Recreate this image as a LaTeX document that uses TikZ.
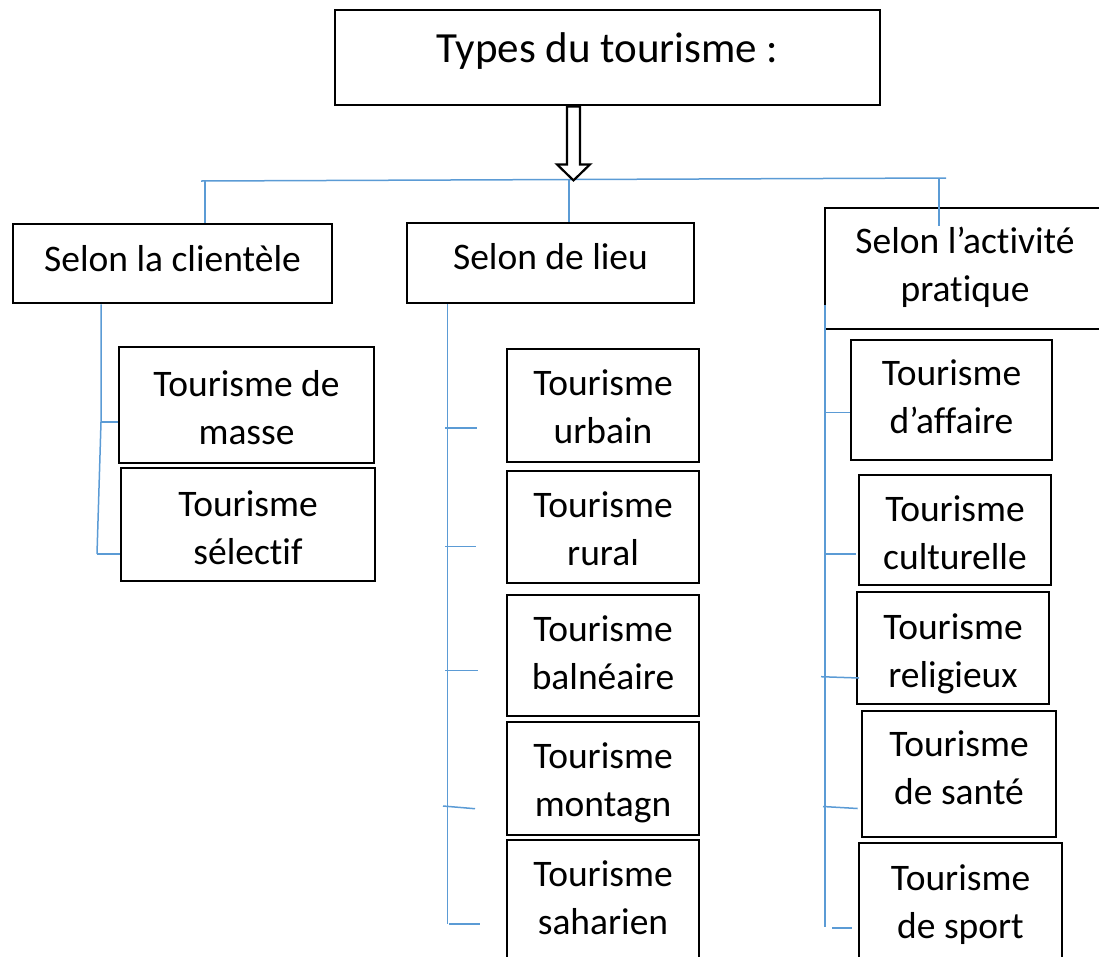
\documentclass[tikz,border=0pt]{standalone}
\usepackage{fontspec}
\setmainfont{Carlito}[Ligatures=NoCommon]
\usepackage{xcolor}
\definecolor{lineblue}{HTML}{5B9BD5}

\tikzset{
  box/.style={draw, line width=2.8pt, align=center, inner sep=0pt,
    font=\fontsize{37.5}{48}\selectfont, text height=80pt},
  tree/.style={draw=lineblue, line width=1.5pt}
}

\begin{document}
\begin{tikzpicture}[x=1pt, y=-1pt]
      \useasboundingbox (0,0) rectangle (1099,956);

      % title
      \node[box, font=\fontsize{43}{52}\selectfont, minimum width=545pt, minimum height=95pt,
        text height=30pt, text depth=21pt] (types) at (607.5,57.5) {Types du tourisme :};

      % first level
      \node[box, minimum width=319pt, minimum height=79pt, text height=30pt, text depth=15pt]
        (clientele) at (172.5,263.5) {Selon la clientèle};
      \node[box, minimum width=287pt, minimum height=80pt, text height=30pt, text depth=17.4pt]
        (lieu) at (550.5,263) {Selon de lieu};
      \node[box, minimum width=280pt, minimum height=121pt, text depth=14.4pt]
        (activite) at (965,268.5) {Selon l’activité\\pratique};

      % selon la clientele
      \node[box, minimum width=255pt, minimum height=116pt, text depth=2pt]
        (masse) at (246.5,405) {Tourisme de\\masse};
      \node[box, minimum width=254pt, minimum height=113pt, text depth=1pt]
        (selectif) at (248,524.5) {Tourisme\\sélectif};

      % selon de lieu
      \node[box, minimum width=192pt, minimum height=113pt, text depth=5pt]
        (urbain) at (603,405.5) {Tourisme\\urbain};
      \node[box, minimum width=192pt, minimum height=112pt, text depth=3.4pt]
        (rural) at (603,527) {Tourisme\\rural};
      \node[box, minimum width=192pt, minimum height=121pt, text depth=11.6pt]
        (balneaire) at (603,655.5) {Tourisme\\balnéaire};
      \node[box, minimum width=192pt, minimum height=113pt, text depth=4.4pt]
        (montagn) at (603,778.5) {Tourisme\\montagn};
      \node[box, minimum width=192pt, minimum height=135pt, text depth=27pt]
        (saharien) at (603,907.5) {Tourisme\\saharien};

      % selon l'activite pratique
      \node[box, minimum width=201pt, minimum height=120pt, text depth=14pt]
        (affaire) at (951.5,400) {Tourisme\\d’affaire};
      \node[box, minimum width=192pt, minimum height=110pt, text depth=0.6pt]
        (culturelle) at (955,530) {Tourisme\\culturelle};
      \node[box, minimum width=192pt, minimum height=112pt, text depth=1.4pt]
        (religieux) at (953,648) {Tourisme\\religieux};
      \node[box, minimum width=194pt, minimum height=126pt, text depth=18.6pt]
        (sante) at (959,774) {Tourisme\\de santé};
      \node[box, minimum width=203pt, minimum height=132pt, text depth=22pt]
        (sport) at (960.5,909) {Tourisme\\de sport};

      % branches
      \coordinate (busL) at (201,181);
      \coordinate (busR) at (946,178);
      \draw[tree] (busL) -- (busR);
      \coordinate (j1) at (205,181);
      \coordinate (j2) at (569,179.5);
      \coordinate (j3) at (939,178.2);
      \draw[tree] (j1) -- (j1 |- clientele.north);
      \draw[tree] (j2) -- (j2 |- lieu.north);
      \draw[tree] (j3) -- ++(0,48);

      \coordinate (c1) at (101,422);
      \coordinate (c2) at (97,554);
      \draw[tree] (clientele.south -| c1) -- (c1) -- (c2);
      \draw[tree] (c1) -- (c1 -| masse.west);
      \draw[tree] (c2) -- (c2 -| selectif.west);

      \coordinate (l0) at (447.5,924);
      \draw[tree] (lieu.south -| l0) -- (l0);
      \coordinate (l1) at (445,428);
      \coordinate (l2) at (445,546.7);
      \coordinate (l3) at (445,670.7);
      \coordinate (l4) at (443,806);
      \coordinate (l5) at (449,924);
      \draw[tree] (l1) -- ++(32,0);
      \draw[tree] (l2) -- ++(31,0);
      \draw[tree] (l3) -- ++(33,0);
      \draw[tree] (l4) -- ++(32,2.7);
      \draw[tree] (l5) -- ++(31,0);

      \coordinate (a0) at (825,927);
      \draw[tree] (825,305) -- (a0);
      \coordinate (a1) at (825,412.7);
      \coordinate (a2) at (825,554);
      \coordinate (a3) at (821,676.7);
      \coordinate (a4) at (823,806.5);
      \coordinate (a5) at (832,928);
      \draw[tree] (a1) -- (a1 -| affaire.west);
      \draw[tree] (a2) -- ++(31,0);
      \draw[tree] (a3) -- ++(38,1.3);
      \draw[tree] (a4) -- ++(34.7,2);
      \draw[tree] (a5) -- ++(20,0);

      % hollow arrow
      \coordinate (arr) at (types.south -| 573.5,0);
      \filldraw[fill=white, line width=2.2pt] (arr) ++(-6.5,0) -- ++(0,58) -- ++(-10,0)
        -- ++(16.5,16) -- ++(16.5,-16) -- ++(-10,0) -- ++(0,-58) -- cycle;

      \end{tikzpicture}
\end{document}
